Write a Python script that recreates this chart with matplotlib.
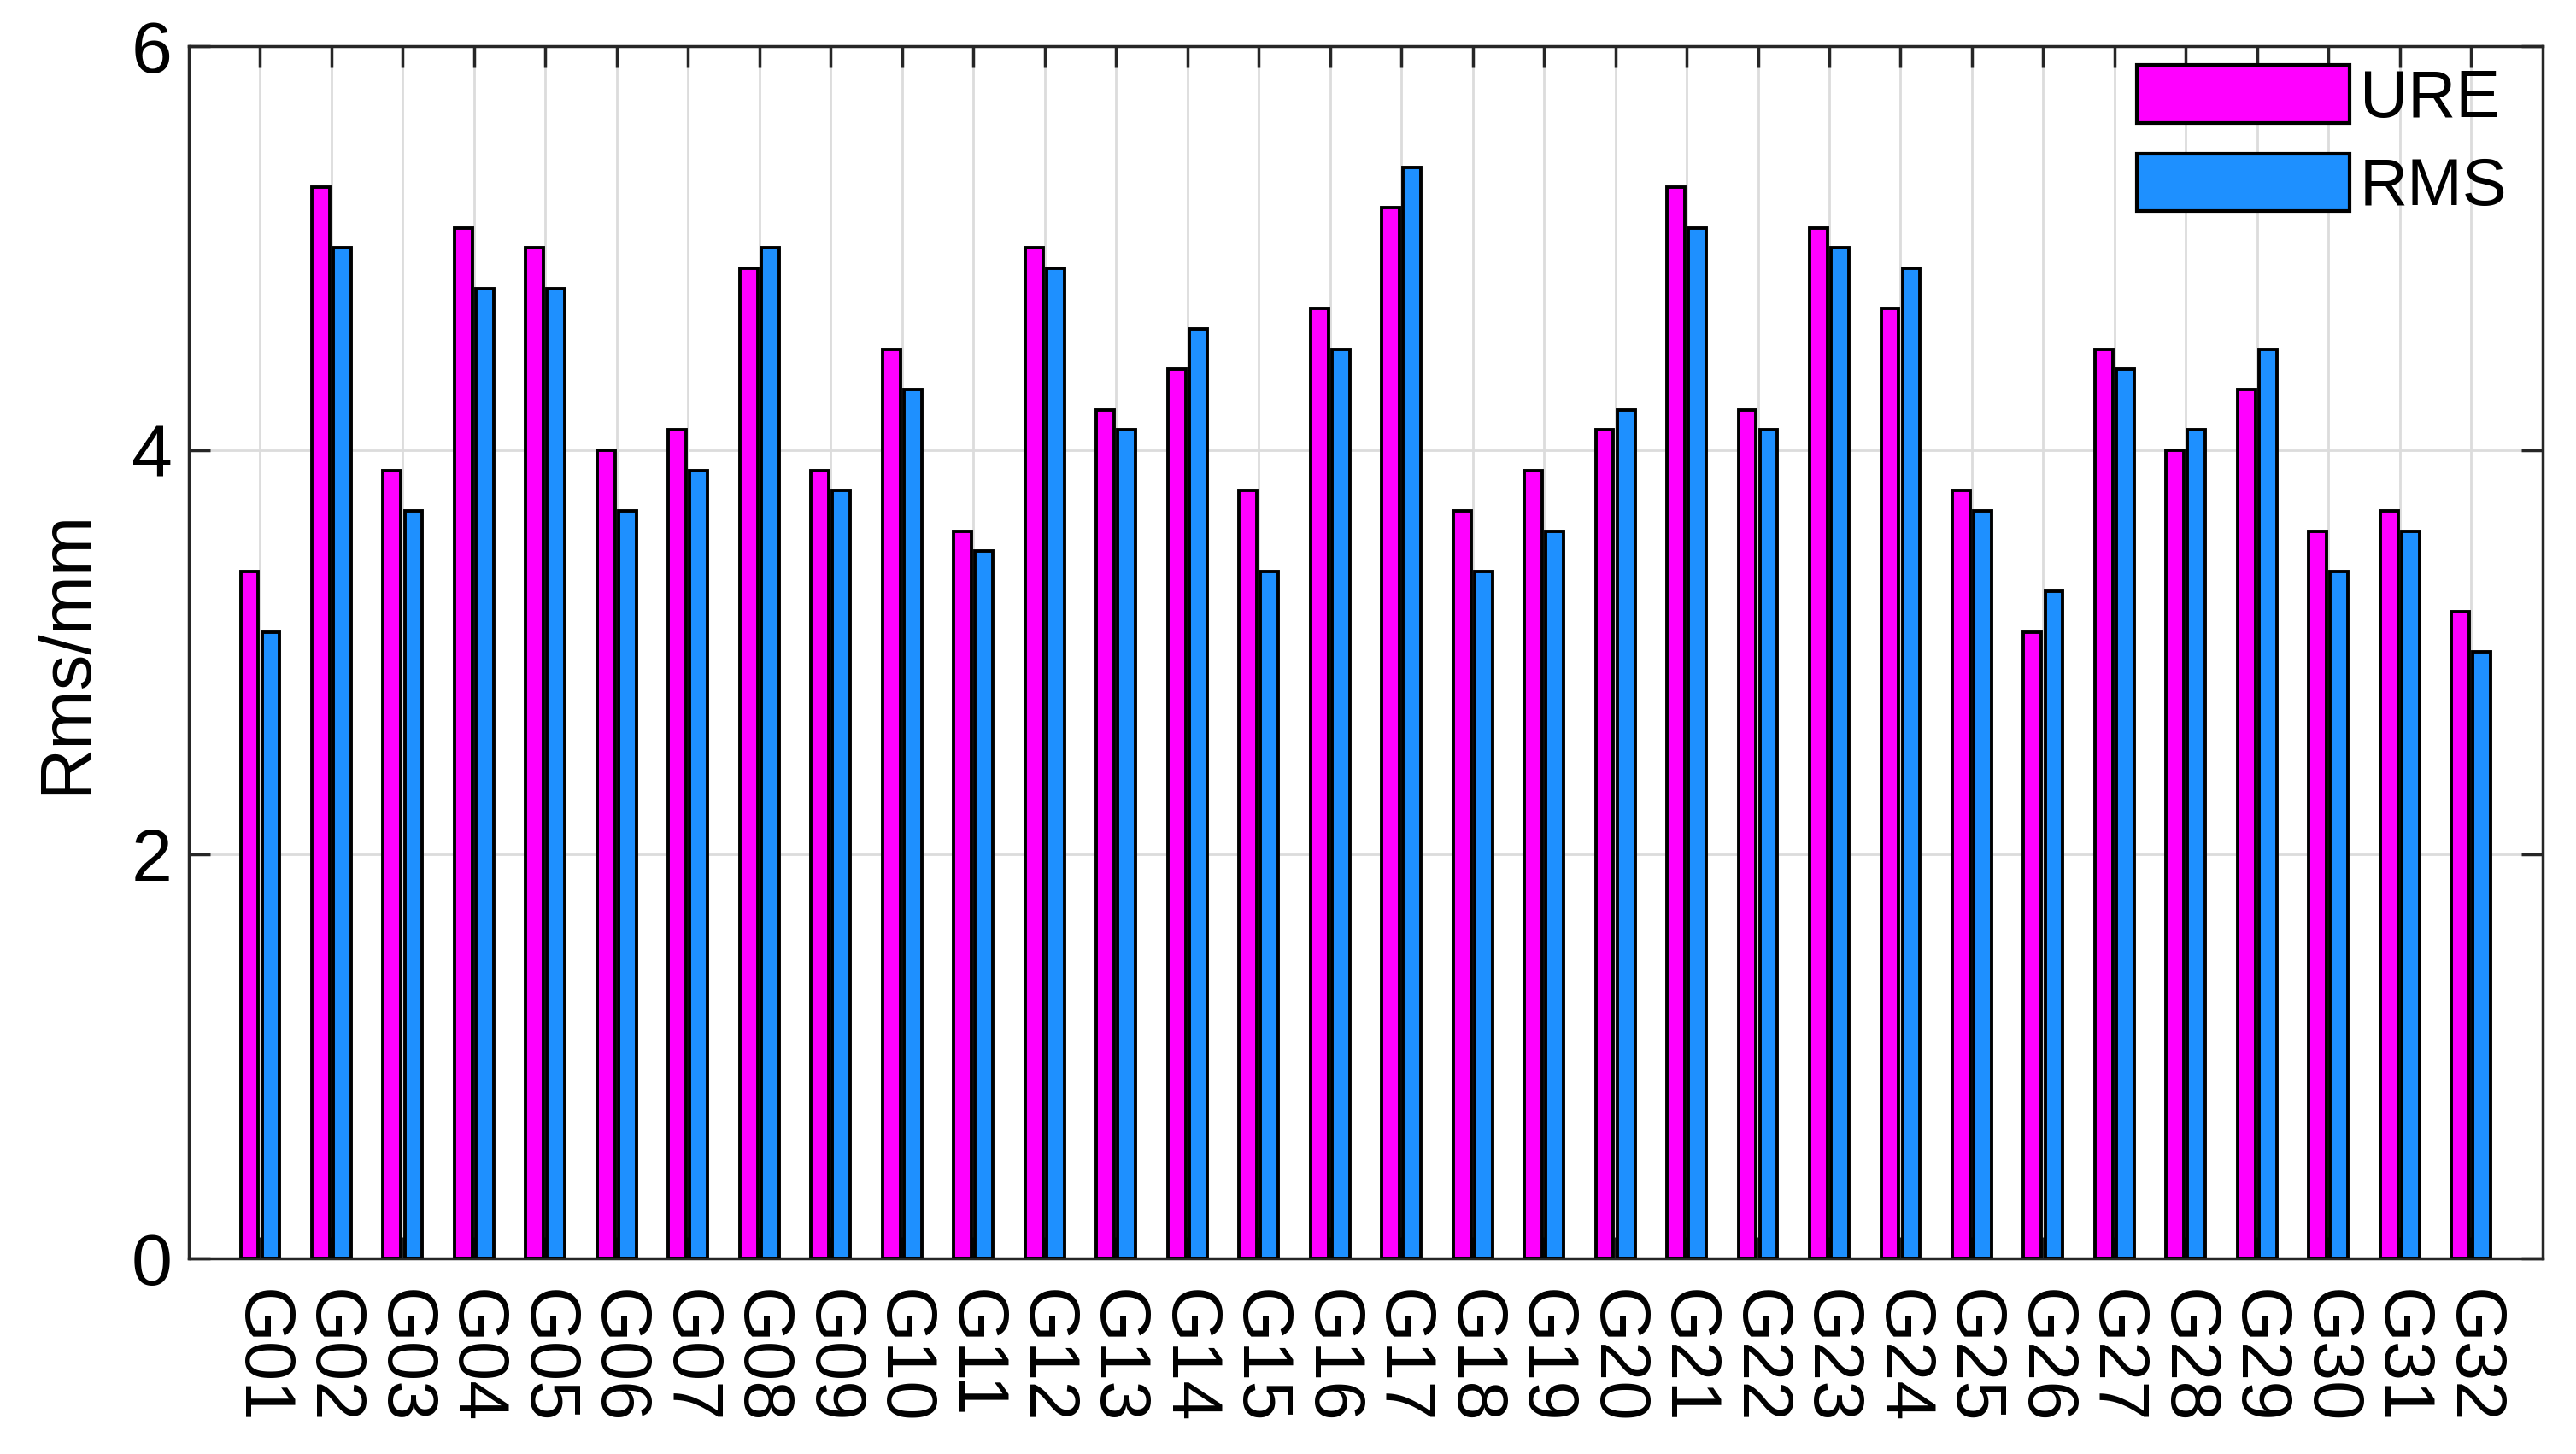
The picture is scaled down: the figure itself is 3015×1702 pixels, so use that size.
import numpy as np
import matplotlib
matplotlib.use('Agg')
import matplotlib.pyplot as plt

# Satelites GPS
sats = ['G%02d' % i for i in range(1, 33)]

ure = [3.4, 5.3, 3.9, 5.1, 5.0, 4.0, 4.1, 4.9, 3.9, 4.5, 3.6, 5.0, 4.2, 4.4, 3.8, 4.7,
       5.2, 3.7, 3.9, 4.1, 5.3, 4.2, 5.1, 4.7, 3.8, 3.1, 4.5, 4.0, 4.3, 3.6, 3.7, 3.2]
rms = [3.1, 5.0, 3.7, 4.8, 4.8, 3.7, 3.9, 5.0, 3.8, 4.3, 3.5, 4.9, 4.1, 4.6, 3.4, 4.5,
       5.4, 3.4, 3.6, 4.2, 5.1, 4.1, 5.0, 4.9, 3.7, 3.3, 4.4, 4.1, 4.5, 3.4, 3.6, 3.0]

plt.rcParams['font.family'] = ['Liberation Sans', 'DejaVu Sans']

fig = plt.figure(figsize=(30.15, 17.02), dpi=100)
ax = fig.add_axes([0.0733, 0.1345, 0.9137, 0.8339])

x = np.arange(1, len(sats) + 1)
w = 0.25
ax.bar(x - 0.15, ure, width=w, color='#FF00FF', edgecolor='black', linewidth=2.8, label='URE', zorder=3)
ax.bar(x + 0.15, rms, width=w, color='#1E90FF', edgecolor='black', linewidth=2.8, label='RMS', zorder=3)

ax.set_xlim(0, 33)
ax.set_ylim(0, 6)
ax.set_yticks([0, 2, 4, 6])
ax.set_xticks(x)
ax.set_xticklabels(sats, rotation=-90, fontsize=60)
ax.tick_params(axis='y', labelsize=62, pad=14)
ax.tick_params(axis='x', pad=26)
ax.tick_params(direction='in', length=18, width=2.5, color='#262626',
               top=True, right=True)
ax.set_ylabel('Rms/mm', fontsize=60, labelpad=26)

ax.grid(True, color='#dcdcdc', linewidth=2, zorder=0)
ax.set_axisbelow(True)
for s in ax.spines.values():
    s.set_linewidth(2.5)
    s.set_color('#262626')

leg = ax.legend(loc='upper right', fontsize=56, frameon=False, handlelength=3.2,
                handleheight=0.95, handletextpad=0.15, labelspacing=0.35,
                borderpad=0.0, borderaxespad=0.0, bbox_to_anchor=(0.985, 0.984))
for h in leg.legend_handles:
    h.set_linewidth(3)

fig.savefig('out.png', dpi=100)
